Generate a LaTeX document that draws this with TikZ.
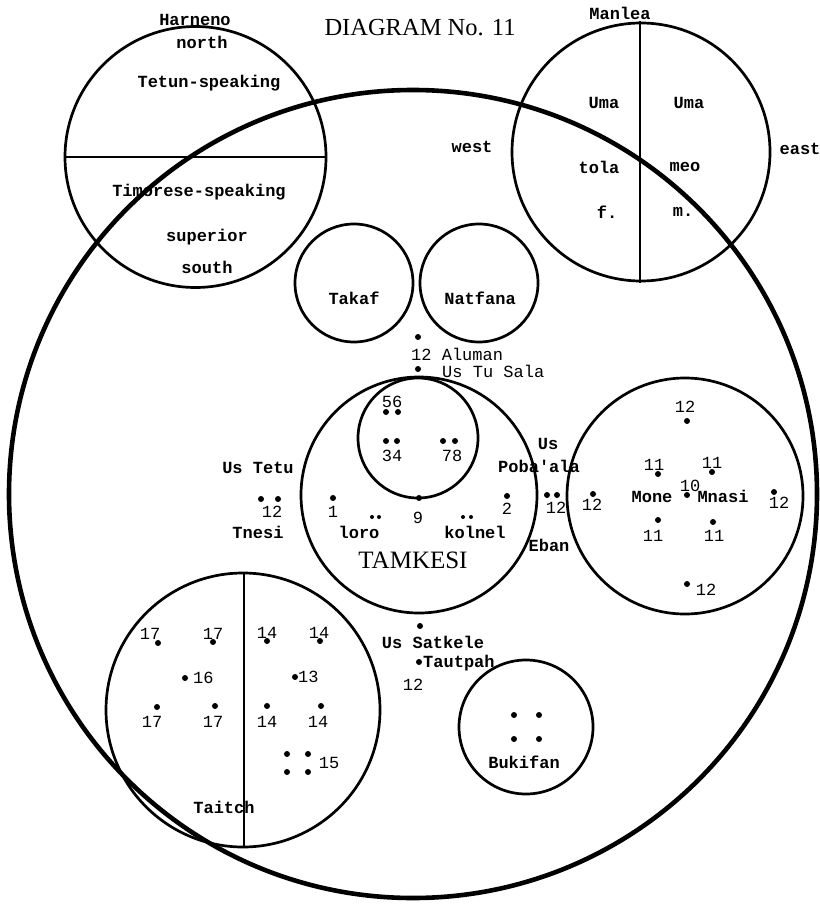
\documentclass[tikz,border=0pt]{standalone}
\usepackage{fontspec}
\setmainfont{Liberation Serif}
\setmonofont{Liberation Mono}
\begin{document}
\begin{tikzpicture}[x=1pt,y=-1pt,
  lbl/.style={font=\fontsize{17}{19}\selectfont\ttfamily\bfseries, inner sep=0pt},
  num/.style={font=\fontsize{17}{19}\selectfont\ttfamily, inner sep=0pt},
  dot/.style={circle, fill, inner sep=0pt, minimum size=6pt},
  ring/.style={line width=2.7pt},
  bigring/.style={line width=4.6pt}]
\useasboundingbox (0,0) rectangle (819,904);
\fill[white] (0,0) rectangle (819,904);

% outer territory
\draw[bigring] (413,494) circle[radius=404pt];

% Harneno: north / south halves
\draw[ring] (195.5,157) circle[radius=130.5pt];
\draw[ring] (65,157) -- (326,157);
% Manlea: west / east halves
\draw[ring] (641,152) circle[radius=129pt];
\draw[ring] (640,21) -- (640,283);
% Takaf and Natfana
\draw[ring] (354,283) circle[radius=59pt];
\draw[ring] (479,283) circle[radius=59pt];
% Tamkesi with its inner ring
\draw[ring] (419,495) circle[radius=118pt];
\draw[ring] (418,438) circle[radius=60pt];
% Mone Mnasi
\draw[ring] (685,496) circle[radius=118pt];
% Taitch halves
\draw[ring] (243,710) circle[radius=137pt];
\draw[ring] (244,573) -- (244,847);
% Bukifan
\draw[ring] (526,727) circle[radius=67pt];

% title
\node[inner sep=0pt, font=\fontsize{24.5}{27}\selectfont] (title) at (420,28) {DIAGRAM No. 11};

% Harneno labels
\node[lbl] (harneno) at (195,20) {Harneno};
\node[lbl] (north) at (202,42) {north};
\node[lbl] (tetun) at (209,83) {Tetun-speaking};
\node[lbl] (timor) at (199,192) {Timorese-speaking};
\node[lbl] (superior) at (207,237) {superior};
\node[lbl] (south) at (207,267) {south};

% Manlea labels
\node[lbl] (manlea) at (620,13) {Manlea};
\node[lbl] (umaL) at (604,103) {Uma};
\node[lbl] (umaR) at (689,103) {Uma};
\node[lbl] (tola) at (599,167) {tola};
\node[lbl] (meo) at (685,167) {meo};
\node[lbl] (fem) at (607,212) {f.};
\node[lbl] (mas) at (683,212) {m.};
\node[lbl] (west) at (472,147) {west};
\node[lbl] (east) at (800,149) {east};

% Takaf, Natfana
\node[lbl] (takaf) at (354,298) {Takaf};
\node[lbl] (natfana) at (480,298) {Natfana};

% Aluman and Us Tu Sala
\node[dot] (dal) at (418,337) {};
\node[num, anchor=west] (aluman) at (411,354.5) {12 Aluman};
\node[dot] (dts) at (418,369) {};
\node[num, anchor=west] (tusala) at (442,371.5) {Us Tu Sala};

% inner ring of Tamkesi
\node[num] (n56) at (392,402) {56};
\node[dot] (d5) at (386,412) {};
\node[dot] (d6) at (398,412) {};
\node[dot] (d3) at (386,441) {};
\node[dot] (d4) at (397,441) {};
\node[num] (n34) at (392,456) {34};
\node[dot] (d7) at (443,441) {};
\node[dot] (d8) at (455,441) {};
\node[num] (n78) at (452,456) {78};
\node[dot] (d9) at (419,498) {};
\node[num] (n9) at (418,518) {9};

% Tamkesi
\node[dot] (d1) at (333,498) {};
\node[num] (n1) at (333,512) {1};
\node[dot] (d2) at (507,496) {};
\node[num] (n2) at (507,509) {2};
\node[dot, minimum size=4pt] (lo1) at (372,517) {};
\node[dot, minimum size=4pt] (lo2) at (379,517) {};
\node[lbl] (loro) at (359,532) {loro};
\node[dot, minimum size=4pt] (ko1) at (463,517) {};
\node[dot, minimum size=4pt] (ko2) at (471,517) {};
\node[lbl] (kolnel) at (475,532) {kolnel};
\node[inner sep=0pt, font=\fontsize{25}{28}\selectfont] (tamkesi) at (413,560) {TAMKESI};

% Us Tetu / Tnesi
\node[lbl] (ustetu) at (258,468) {Us Tetu};
\node[dot] (dt1) at (261,499) {};
\node[dot] (dt2) at (278,499) {};
\node[num] (n12t) at (272,512) {12};
\node[lbl] (tnesi) at (258,532) {Tnesi};

% Us Poba'ala / Eban
\node[lbl] (us) at (548,444) {Us};
\node[lbl] (poba) at (539,466) {Poba'ala};
\node[dot] (dp1) at (547,495) {};
\node[dot] (dp2) at (557,495) {};
\node[num] (n12p) at (556,508) {12};
\node[lbl] (eban) at (549,545) {Eban};

% Mone Mnasi
\node[num] (m12a) at (685,407) {12};
\node[dot] (dm12a) at (687,421) {};
\node[num] (m11a) at (654,465) {11};
\node[dot] (dm11a) at (658,474) {};
\node[num] (m11b) at (712,463) {11};
\node[dot] (dm11b) at (712,472) {};
\node[num] (m10) at (690,486) {10};
\node[dot] (dm10) at (687,495) {};
\node[lbl] (mone) at (652,497) {Mone};
\node[lbl] (mnasi) at (723,496) {Mnasi};
\node[dot] (dm12b) at (593,494) {};
\node[num] (m12b) at (592,505) {12};
\node[dot] (dm12c) at (774,492) {};
\node[num] (m12c) at (779,503) {12};
\node[dot] (dm11c) at (658,520) {};
\node[num] (m11c) at (653,536) {11};
\node[dot] (dm11d) at (713,522) {};
\node[num] (m11d) at (714,536) {11};
\node[dot] (dm12d) at (687,584) {};
\node[num] (m12d) at (706,590) {12};

% Taitch
\node[num] (t17a) at (150,634) {17};
\node[dot] (dt17a) at (158,643) {};
\node[num] (t17b) at (213,634) {17};
\node[dot] (dt17b) at (213,642) {};
\node[num] (t14a) at (267,633) {14};
\node[dot] (dt14a) at (267,641) {};
\node[num] (t14b) at (319,633) {14};
\node[dot] (dt14b) at (320,641) {};
\node[dot] (dt16) at (185,678) {};
\node[num, anchor=west] (t16) at (193,678) {16};
\node[dot] (dt13) at (295,677) {};
\node[num, anchor=west] (t13) at (298,677) {13};
\node[dot] (dt17c) at (157,707) {};
\node[num] (t17c) at (152,722) {17};
\node[dot] (dt17d) at (215,706) {};
\node[num] (t17d) at (213,722) {17};
\node[dot] (dt14c) at (267,706) {};
\node[num] (t14c) at (267,722) {14};
\node[dot] (dt14d) at (321,706) {};
\node[num] (t14d) at (318,722) {14};
\node[dot] (d15a) at (287,754) {};
\node[dot] (d15b) at (308,754) {};
\node[dot] (d15c) at (287,772) {};
\node[dot] (d15d) at (308,772) {};
\node[num] (t15) at (329,763) {15};
\node[lbl] (taitch) at (224,807) {Taitch};

% Us Satkele, Tautpah
\node[dot] (dsat) at (420,626) {};
\node[lbl] (satkele) at (433,642) {Us Satkele};
\node[dot] (dtau) at (419,662) {};
\node[lbl, anchor=west] (tautpah) at (423,663) {Tautpah};
\node[num] (n12s) at (413,685) {12};

% Bukifan
\node[dot] (db1) at (514,715) {};
\node[dot] (db2) at (539,715) {};
\node[dot] (db3) at (514,739) {};
\node[dot] (db4) at (539,739) {};
\node[lbl] (bukifan) at (524,762) {Bukifan};
\end{tikzpicture}
\end{document}
